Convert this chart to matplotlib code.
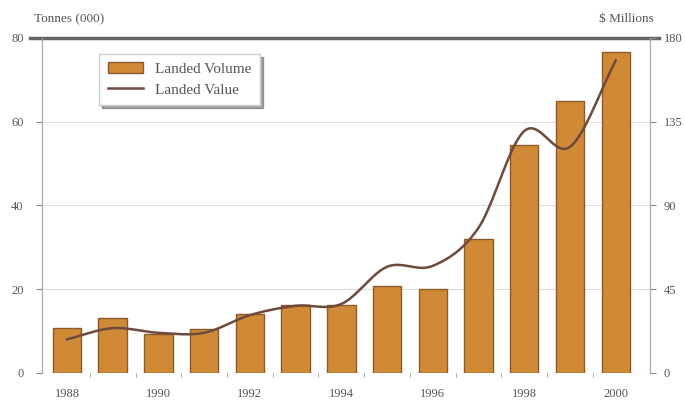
import numpy as np
import matplotlib
matplotlib.use("Agg")
import matplotlib.pyplot as plt


years = [1988, 1989, 1990, 1991, 1992, 1993, 1994, 1995, 1996, 1997, 1998, 1999, 2000]
volume = [10.7, 13.1, 9.3, 10.5, 14.1, 16.2, 16.2, 20.8, 20.0, 32.0, 54.5, 65.0, 76.6]
value = [18, 24, 21.5, 21.5, 31, 36, 37, 57, 57.5, 78, 130, 121.5, 168]
year_labels = ["1988", "", "1990", "", "1992", "", "1994", "", "1996", "", "1998", "", "2000"]

TEXT = "#555555"
plt.rcParams["font.family"] = ["Liberation Serif", "DejaVu Serif"]


def smooth(x, y, n=20):
    # catmull-rom curve through the points, for drawing only
    x = np.asarray(x, float)
    y = np.asarray(y, float)
    px = np.concatenate([[2 * x[0] - x[1]], x, [2 * x[-1] - x[-2]]])
    py = np.concatenate([[2 * y[0] - y[1]], y, [2 * y[-1] - y[-2]]])
    xs, ys = [], []
    t = np.linspace(0, 1, n, endpoint=False)
    for i in range(1, len(px) - 2):
        for p, out in ((px, xs), (py, ys)):
            p0, p1, p2, p3 = p[i - 1], p[i], p[i + 1], p[i + 2]
            out.extend(0.5 * (2 * p1 + (-p0 + p2) * t
                              + (2 * p0 - 5 * p1 + 4 * p2 - p3) * t ** 2
                              + (-p0 + 3 * p1 - 3 * p2 + p3) * t ** 3))
    xs.append(x[-1])
    ys.append(y[-1])
    return np.array(xs), np.array(ys)


fig = plt.figure(figsize=(6.85, 4.0), dpi=100)
ax = fig.add_axes([0.061, 0.068, 0.888, 0.837])
ax2 = ax.twinx()

x = np.arange(len(years))
ax.bar(x, volume, width=0.62, color="#D08A35", edgecolor="#8B5A2B", linewidth=1.0,
       label="Landed Volume", zorder=3)
ax.set_ylim(0, 80)
ax.set_xlim(-0.55, len(years) - 0.25)
ax.set_yticks([0, 20, 40, 60, 80])
ax.grid(axis="y", color="#dddddd", linewidth=0.8, zorder=0)
ax.set_axisbelow(True)

ax.set_xticks(x)
ax.set_xticklabels(year_labels)
ax.set_xticks(x[:-1] + 0.5, minor=True)
ax.tick_params(axis="x", which="major", length=0, pad=11, labelsize=9, colors=TEXT)
ax.tick_params(axis="x", which="minor", length=3, color="#999999")
ax.tick_params(axis="y", length=4, pad=9, color="#888888", labelsize=9, labelcolor=TEXT)

sx, sy = smooth(x, value)
ax2.plot(sx, sy, color="#6E4A3C", linewidth=1.8, label="Landed Value", zorder=4)
ax2.set_ylim(0, 180)
ax2.set_yticks([0, 45, 90, 135, 180])
ax2.tick_params(axis="y", length=4, pad=6, color="#888888", labelsize=9, labelcolor=TEXT)

for a in (ax, ax2):
    a.spines["top"].set_visible(False)
    a.spines["bottom"].set_visible(False)
    a.spines["left"].set_color("#aaaaaa")
    a.spines["right"].set_color("#aaaaaa")

# thick rule along the top
ax.plot([-0.8, len(years) - 0.05], [80, 80], color="#666666", linewidth=2.5,
        clip_on=False, zorder=5)

fig.text(0.05, 0.945, "Tonnes (000)", fontsize=9.5, color=TEXT)
fig.text(0.955, 0.945, "$ Millions", fontsize=9.5, color=TEXT, ha="right")

h1, l1 = ax.get_legend_handles_labels()
h2, l2 = ax2.get_legend_handles_labels()
leg = ax2.legend(h1 + h2, l1 + l2, loc="upper left", bbox_to_anchor=(0.082, 0.975),
                 fontsize=11, frameon=True, fancybox=False, shadow=True,
                 edgecolor="#cccccc", borderpad=0.55, handlelength=2.3,
                 labelspacing=0.45)
for t in leg.get_texts():
    t.set_color(TEXT)

fig.savefig("out.png", dpi=100)
